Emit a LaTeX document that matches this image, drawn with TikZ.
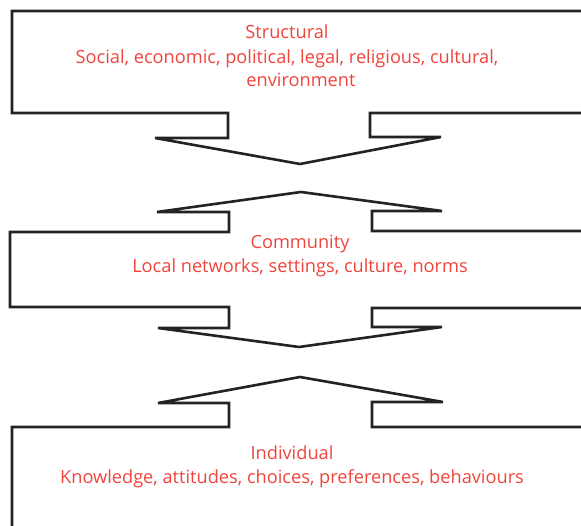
\documentclass[tikz,border=0pt]{standalone}
\usepackage{fontspec}
\setmainfont{Open Sans}
\definecolor{lbl}{RGB}{239,68,60}
\definecolor{ln}{RGB}{35,35,35}
\tikzset{
  frame/.style={draw=ln, line width=2.6pt, line join=miter},
  lbltext/.style={text=lbl, font=\fontsize{18.2}{21}\selectfont, anchor=base, inner sep=0pt},
}
\begin{document}
\begin{tikzpicture}[x=1pt,y=-1pt]
\useasboundingbox (0,0) rectangle (581,526);
\begin{scope}
\clip (0,0) rectangle (581,526);
% Structural box with down arrow
\draw[frame] (590,11) -- (12,11) -- (12,113) -- (228,113) -- (228,138) -- (155,138)
  -- (300,164) -- (441,137) -- (370,137) -- (370,113) -- (590,113);
% Community box with up and down arrows
\draw[frame] (590,231) -- (372,231) -- (372,211) -- (442,211) -- (301,192) -- (157,212)
  -- (229,212) -- (229,232) -- (10,232) -- (10,307) -- (229,307) -- (229,328) -- (158,328)
  -- (299,347) -- (442,327) -- (372,327) -- (372,308) -- (590,308);
% Individual box with up arrow
\draw[frame] (590,427) -- (372,427) -- (372,402) -- (443,402) -- (300,377) -- (158,403)
  -- (229,403) -- (229,427) -- (12,427) -- (12,540);
\end{scope}
% labels
\node[lbltext] (s1) at (287,39) {Structural};
\node[lbltext] (s2) at (287,64) {Social, economic, political, legal, religious, cultural,};
\node[lbltext] (s3) at (301,87) {environment};
\node[lbltext] (c1) at (300,249) {Community};
\node[lbltext] (c2) at (300,273) {Local networks, settings, culture, norms};
\node[lbltext] (i1) at (292,459) {Individual};
\node[lbltext] (i2) at (292,483) {Knowledge, attitudes, choices, preferences, behaviours};
\end{tikzpicture}
\end{document}
